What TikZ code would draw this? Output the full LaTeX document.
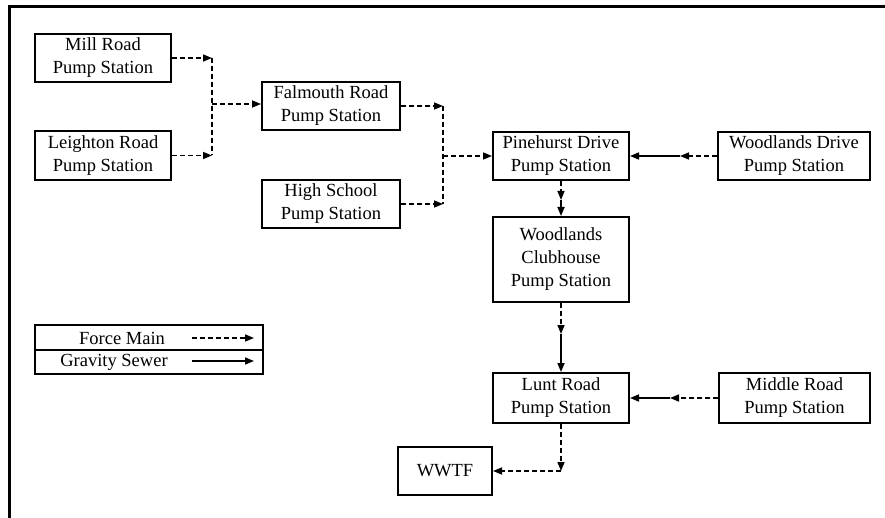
\documentclass[tikz,border=0pt]{standalone}
\usepackage{fontspec}
\setmainfont{Liberation Serif}
\usetikzlibrary{arrows.meta,calc}
\begin{document}
\begin{tikzpicture}[x=1pt,y=-1pt,
  every node/.style={font=\fontsize{18.5}{23}\selectfont},
  box/.style={draw, line width=2pt, align=center, inner sep=0pt, minimum width=#1},
  box/.default=136pt,
  fm/.style={line width=1.5pt, dash pattern=on 5pt off 3pt, -{Triangle[length=9pt,width=7pt]}},
  fmline/.style={line width=1.5pt, dash pattern=on 5pt off 3pt},
  gs/.style={line width=1.6pt, -{Triangle[length=9pt,width=7pt]}},
  lbl/.style={inner sep=0pt}]
\useasboundingbox (0,0) rectangle (885,518);
\draw[line width=3pt] (9,518) -- (9,7) -- (885,7);

\node[box, minimum height=48pt] (mill) at (103,58) {Mill Road\\Pump Station};
\node[box, minimum height=49pt] (leigh) at (103,155.5) {Leighton Road\\Pump Station};
\node[box=138pt, minimum height=48pt] (falm) at (331,106) {Falmouth Road\\Pump Station};
\node[box=138pt, minimum height=48pt] (high) at (331,204) {High School\\Pump Station};
\node[box, minimum height=48pt] (pine) at (561,156) {Pinehurst Drive\\Pump Station};
\node[box=152pt, minimum height=48pt] (wdrive) at (794,156) {Woodlands Drive\\Pump Station};
\node[box, minimum height=85pt] (club) at (561,259.5) {Woodlands\\Clubhouse\\Pump Station};
\node[box=136pt, minimum height=50pt] (lunt) at (561,398) {Lunt Road\\Pump Station};
\node[box=151pt, minimum height=50pt] (middle) at (794.5,398) {Middle Road\\Pump Station};
\node[box=94pt, minimum height=48pt] (wwtf) at (445,471) {WWTF};

% legend
\node[box=228pt, minimum height=25pt] (lg1) at (149,337.5) {};
\node[box=228pt, minimum height=24pt] (lg2) at (149,362) {};
\node[lbl] (lfm) at (122,338) {Force Main};
\node[lbl] (lgs) at (114,362) {Gravity Sewer};
\coordinate (lfa) at (192,338);
\coordinate (lfb) at (254,338);
\coordinate (lga) at (192,361);
\coordinate (lgb) at (254,361);
\draw[fm] (lfa) -- (lfb);
\draw[gs] (lga) -- (lgb);

% bus 1
\coordinate (b1) at (212,0);
\coordinate (b1m) at (212,104);
\draw[fm] (mill.east) -- (mill.east -| b1);
\draw[fm] (leigh.east) -- (leigh.east -| b1);
\draw[fmline] (mill.east -| b1) -- (leigh.east -| b1);
\draw[fm] (b1m) -- (b1m -| falm.west);

% bus 2
\coordinate (b2) at (443,0);
\coordinate (b2m) at (443,156);
\draw[fm] (falm.east) -- (falm.east -| b2);
\draw[fm] (high.east) -- (high.east -| b2);
\draw[fmline] (falm.east -| b2) -- (high.east -| b2);
\draw[fm] (b2m) -- (pine.west);

% Woodlands Drive -> Pinehurst
\coordinate (j3) at (680,156);
\draw[fm] (wdrive.west) -- (j3);
\draw[gs] (j3) -- (pine.east);

% Pinehurst -> Clubhouse
\coordinate (j4) at (561,200);
\draw[fm] (pine.south) -- (j4);
\draw[gs] (j4) -- (club.north);

% Clubhouse -> Lunt
\coordinate (j5) at (561,334);
\draw[fm] (club.south) -- (j5);
\draw[gs] (j5) -- (lunt.north);

% Middle -> Lunt
\coordinate (j6) at (670,398);
\draw[fm] (middle.west) -- (j6);
\draw[gs] (j6) -- (lunt.east);

% Lunt -> WWTF
\coordinate (j7) at (561,471);
\draw[fm] (lunt.south) -- (j7);
\draw[fm] (j7) -- (wwtf.east);
\end{tikzpicture}
\end{document}
